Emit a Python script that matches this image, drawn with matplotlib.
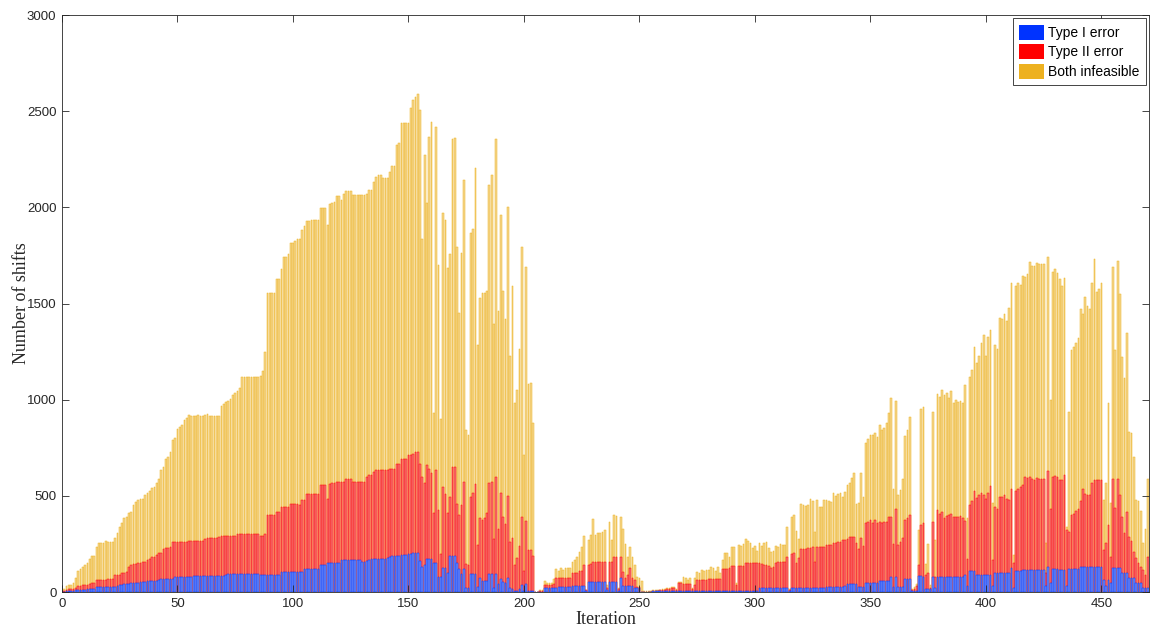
import matplotlib
matplotlib.use("Agg")
import matplotlib.pyplot as plt
from matplotlib.patches import Patch
import numpy as np

# Values: total height of each stacked bar,
# height of (Type I + Type II) and height of Type I, per iteration 1..470
total = [
 14, 29, 38, 38, 47, 71, 109, 118, 131, 140,
 149, 170, 187, 187, 235, 253, 253, 256, 267, 262,
 262, 262, 279, 305, 336, 360, 383, 391, 412, 418,
 452, 470, 478, 482, 482, 504, 516, 527, 539, 547,
 568, 590, 634, 650, 690, 700, 730, 790, 800, 846,
 860, 868, 895, 905, 920, 915, 915, 915, 918, 915,
 915, 918, 925, 915, 915, 915, 915, 915, 965, 975,
 990, 995, 1005, 1024, 1035, 1045, 1060, 1116, 1116, 1116,
 1116, 1116, 1116, 1116, 1120, 1125, 1150, 1250, 1556, 1556,
 1556, 1556, 1626, 1626, 1678, 1740, 1740, 1757, 1815, 1815,
 1826, 1834, 1834, 1882, 1903, 1930, 1930, 1934, 1934, 1934,
 1934, 1995, 1995, 1995, 1908, 2017, 2025, 2030, 2059, 2059,
 2040, 2069, 2087, 2087, 2087, 2064, 2064, 2064, 2064, 2064,
 2064, 2070, 2090, 2090, 2133, 2160, 2168, 2168, 2151, 2151,
 2151, 2186, 2215, 2215, 2324, 2336, 2436, 2440, 2440, 2440,
 2515, 2560, 2575, 2590, 2506, 1834, 2272, 2025, 2368, 2446,
 930, 2418, 1700, 900, 1972, 1934, 1683, 1760, 2354, 2360,
 1795, 1450, 1761, 2142, 842, 816, 1868, 1890, 2203, 1284,
 1527, 1553, 1556, 1567, 2116, 2168, 1394, 2354, 1463, 1961,
 1567, 1418, 2000, 1227, 1591, 985, 1050, 1266, 1796, 712,
 1688, 1082, 1085, 877, 0, 0, 8, 8, 57, 49,
 49, 49, 66, 118, 110, 123, 114, 123, 123, 123,
 158, 166, 184, 210, 236, 291, 13, 270, 296, 378,
 296, 305, 308, 312, 322, 36, 366, 270, 400, 395,
 20, 388, 330, 252, 184, 236, 181, 140, 77, 71,
 59, 3, 3, 3, 3, 10, 10, 10, 12, 15,
 17, 19, 19, 28, 28, 14, 54, 54, 80, 71,
 62, 71, 19, 71, 106, 97, 114, 111, 114, 114,
 128, 123, 111, 128, 97, 166, 204, 201, 180, 232,
 232, 45, 244, 239, 249, 274, 267, 253, 227, 239,
 215, 253, 239, 253, 262, 227, 210, 215, 239, 236,
 250, 244, 244, 336, 14, 392, 400, 319, 276, 458,
 452, 447, 452, 482, 475, 314, 478, 444, 444, 478,
 478, 475, 470, 513, 499, 509, 513, 496, 522, 556,
 569, 591, 617, 460, 464, 617, 492, 776, 794, 816,
 816, 825, 808, 868, 842, 851, 877, 932, 1007, 534,
 995, 504, 530, 586, 811, 842, 908, 15, 25, 41,
 322, 950, 963, 148, 252, 36, 938, 270, 1030, 1012,
 1050, 1024, 1033, 1007, 1047, 981, 998, 990, 995, 981,
 1076, 383, 1116, 1154, 1276, 1189, 1227, 1294, 1336, 1227,
 1328, 1362, 461, 1284, 1262, 1423, 1418, 1446, 1411, 1475,
 1608, 192, 1591, 1605, 1596, 1643, 1640, 1653, 1718, 1695,
 1695, 1709, 1706, 1706, 1706, 253, 1740, 1000, 1665, 1677,
 1657, 1626, 1591, 1631, 336, 938, 1258, 1272, 1297, 1319,
 1470, 1446, 1536, 1487, 1470, 1605, 1730, 1562, 1574, 1608,
 478, 565, 985, 461, 1688, 1258, 1723, 1550, 1220, 1111,
 1345, 834, 828, 704, 478, 474, 420, 253, 330, 585,
]

type1_plus_type2 = [
 5, 10, 15, 15, 18, 22, 31, 33, 35, 38,
 38, 42, 47, 47, 60, 62, 63, 65, 65, 66,
 66, 67, 86, 86, 88, 99, 99, 102, 131, 138,
 145, 148, 150, 152, 154, 156, 165, 170, 180, 182,
 190, 205, 204, 224, 228, 230, 233, 262, 262, 262,
 262, 262, 262, 262, 265, 267, 267, 267, 267, 267,
 267, 275, 280, 280, 280, 280, 280, 285, 291, 291,
 291, 291, 291, 291, 291, 302, 302, 302, 302, 302,
 302, 302, 302, 302, 302, 291, 291, 300, 400, 400,
 400, 400, 418, 418, 442, 442, 442, 442, 459, 459,
 459, 459, 450, 478, 478, 508, 508, 508, 508, 508,
 508, 556, 556, 556, 486, 563, 565, 568, 570, 570,
 572, 572, 590, 590, 590, 572, 572, 572, 572, 574,
 574, 600, 608, 608, 625, 634, 634, 634, 634, 634,
 634, 642, 642, 642, 668, 668, 694, 694, 694, 712,
 712, 720, 729, 729, 668, 600, 565, 660, 642, 620,
 410, 634, 425, 200, 546, 512, 410, 494, 650, 650,
 460, 400, 452, 572, 146, 140, 494, 517, 562, 244,
 385, 375, 385, 412, 569, 572, 274, 598, 328, 517,
 390, 354, 500, 262, 279, 140, 177, 237, 392, 111,
 371, 218, 218, 187, 0, 0, 5, 5, 36, 36,
 36, 36, 42, 73, 71, 71, 71, 71, 71, 71,
 100, 100, 100, 111, 111, 140, 8, 140, 145, 158,
 158, 158, 158, 158, 158, 23, 158, 158, 184, 180,
 15, 180, 105, 71, 88, 123, 71, 62, 27, 25,
 0, 2, 2, 2, 2, 7, 7, 7, 9, 11,
 13, 14, 14, 19, 19, 12, 48, 48, 42, 42,
 42, 42, 14, 36, 62, 62, 62, 62, 62, 66,
 66, 66, 66, 66, 66, 118, 118, 118, 123, 135,
 135, 36, 135, 135, 135, 149, 149, 149, 149, 149,
 149, 149, 146, 142, 140, 135, 123, 128, 150, 155,
 158, 158, 158, 180, 10, 197, 201, 153, 175, 222,
 222, 222, 227, 227, 232, 158, 235, 235, 235, 235,
 244, 244, 244, 253, 255, 258, 262, 270, 272, 274,
 284, 284, 284, 253, 222, 279, 239, 357, 366, 374,
 360, 374, 360, 366, 360, 362, 366, 392, 392, 250,
 430, 244, 262, 279, 374, 383, 400, 10, 18, 30,
 140, 348, 357, 88, 100, 20, 366, 80, 426, 405,
 418, 383, 396, 400, 405, 392, 392, 390, 395, 383,
 367, 170, 452, 475, 527, 487, 504, 513, 504, 482,
 516, 551, 166, 444, 430, 492, 496, 504, 482, 478,
 534, 150, 527, 534, 544, 556, 600, 591, 600, 586,
 582, 591, 586, 586, 586, 100, 631, 430, 600, 603,
 596, 582, 582, 608, 320, 314, 400, 405, 423, 430,
 475, 534, 510, 504, 504, 565, 582, 582, 582, 582,
 218, 253, 349, 184, 586, 435, 586, 504, 391, 305,
 418, 284, 267, 210, 175, 149, 130, 114, 88, 184,
]

type1 = [
 2, 4, 5, 5, 6, 8, 10, 11, 12, 13,
 14, 15, 15, 16, 24, 25, 26, 26, 26, 27,
 27, 27, 28, 30, 36, 38, 40, 42, 44, 45,
 46, 47, 48, 50, 52, 53, 55, 56, 57, 58,
 59, 60, 66, 66, 66, 66, 66, 70, 76, 76,
 76, 76, 76, 76, 76, 76, 83, 83, 83, 83,
 83, 83, 83, 83, 83, 83, 83, 83, 83, 83,
 90, 92, 92, 92, 92, 92, 92, 92, 92, 92,
 92, 92, 92, 92, 92, 88, 88, 88, 88, 88,
 88, 88, 88, 88, 106, 106, 106, 106, 106, 106,
 106, 106, 106, 106, 120, 120, 120, 120, 120, 120,
 120, 141, 141, 141, 149, 149, 149, 149, 149, 149,
 166, 166, 166, 166, 166, 166, 166, 166, 166, 158,
 158, 160, 165, 170, 170, 170, 170, 170, 170, 170,
 175, 180, 185, 185, 185, 185, 190, 190, 195, 200,
 200, 203, 203, 203, 160, 130, 140, 170, 170, 170,
 150, 150, 80, 80, 125, 125, 100, 185, 185, 185,
 150, 120, 94, 120, 21, 21, 94, 94, 94, 28,
 73, 59, 59, 59, 94, 94, 21, 94, 42, 68,
 50, 45, 73, 23, 15, 7, 7, 15, 36, 5,
 42, 7, 7, 7, 0, 0, 2, 2, 21, 21,
 21, 21, 21, 21, 24, 24, 24, 24, 24, 24,
 31, 31, 31, 31, 31, 31, 5, 54, 54, 54,
 54, 54, 54, 54, 54, 10, 54, 54, 54, 54,
 5, 71, 31, 31, 31, 31, 31, 19, 19, 19,
 0, 1, 1, 1, 1, 3, 3, 3, 3, 4,
 4, 5, 5, 5, 5, 4, 5, 5, 5, 5,
 5, 5, 4, 5, 5, 5, 5, 5, 5, 5,
 5, 5, 5, 5, 5, 6, 6, 6, 6, 6,
 6, 4, 6, 6, 6, 6, 6, 6, 6, 6,
 6, 19, 19, 19, 19, 19, 19, 19, 19, 19,
 19, 19, 19, 19, 5, 19, 19, 19, 19, 21,
 21, 21, 21, 21, 21, 21, 21, 21, 21, 21,
 24, 24, 24, 24, 24, 24, 24, 24, 30, 42,
 42, 42, 42, 42, 27, 27, 27, 48, 48, 48,
 48, 48, 48, 57, 57, 57, 57, 57, 76, 27,
 80, 27, 27, 27, 66, 66, 66, 5, 5, 5,
 83, 83, 80, 15, 15, 15, 76, 20, 80, 80,
 80, 80, 80, 80, 80, 80, 80, 80, 80, 80,
 88, 29, 111, 111, 111, 88, 88, 88, 88, 88,
 88, 88, 29, 101, 101, 101, 101, 101, 101, 101,
 123, 20, 111, 111, 111, 114, 114, 114, 114, 114,
 114, 114, 114, 114, 114, 29, 128, 45, 118, 118,
 118, 114, 114, 114, 29, 118, 118, 118, 118, 118,
 132, 132, 132, 132, 132, 132, 132, 132, 132, 132,
 62, 29, 62, 45, 123, 123, 123, 123, 101, 101,
 101, 71, 71, 71, 45, 45, 45, 20, 20, 20,
]

iterations = np.arange(1, len(total) + 1)
legend_labels = ["Type I error", "Type II error", "Both infeasible"]
x_ticks = list(range(0, 451, 50))
y_ticks = list(range(0, 3001, 500))

c_blue = "#0033ff"
c_red = "#ff0000"
c_yellow = "#edb120"
f_blue = "#6f8cf2"
f_red = "#f47878"
f_yellow = "#f4d68e"

fig = plt.figure(figsize=(11.5, 6.28), dpi=100)
ax = fig.add_axes([0.0539, 0.0573, 0.9453, 0.9188])

ax.bar(iterations, total, width=0.75, facecolor=f_yellow, edgecolor=c_yellow, linewidth=0.35)
ax.bar(iterations, type1_plus_type2, width=0.75, facecolor=f_red, edgecolor=c_red, linewidth=0.35)
ax.bar(iterations, type1, width=0.75, facecolor=f_blue, edgecolor=c_blue, linewidth=0.35)

ax.set_xlim(0, 470.6)
ax.set_ylim(0, 3000)
ax.set_xticks(x_ticks)
ax.set_yticks(y_ticks)

tick_font = dict(family=["Liberation Sans", "DejaVu Sans"], size=9.5)
ax.set_xticklabels([str(t) for t in x_ticks], **tick_font)
ax.set_yticklabels([str(t) for t in y_ticks], **tick_font)
ax.tick_params(direction="in", length=5, width=0.6, colors="#262626",
               top=True, right=True, pad=4)
for s in ax.spines.values():
    s.set_color("#262626")
    s.set_linewidth(0.6)

ax.set_xlabel("Iteration", family=["Liberation Serif", "DejaVu Serif"],
              size=13, color="#262626", labelpad=1)
ax.set_ylabel("Number of shifts", family=["Liberation Serif", "DejaVu Serif"],
              size=13, color="#262626", labelpad=-2)

handles = [Patch(facecolor=c_blue), Patch(facecolor=c_red), Patch(facecolor=c_yellow)]
leg = ax.legend(handles, legend_labels, loc="upper right",
                prop={"family": ["Liberation Sans", "DejaVu Sans"], "size": 10},
                fancybox=False, framealpha=1, edgecolor="#262626",
                handlelength=1.8, handleheight=1.3, handletextpad=0.3,
                borderpad=0.45, labelspacing=0.3, borderaxespad=0.25)
leg.get_frame().set_linewidth(0.6)

fig.savefig("out.png", dpi=100)
